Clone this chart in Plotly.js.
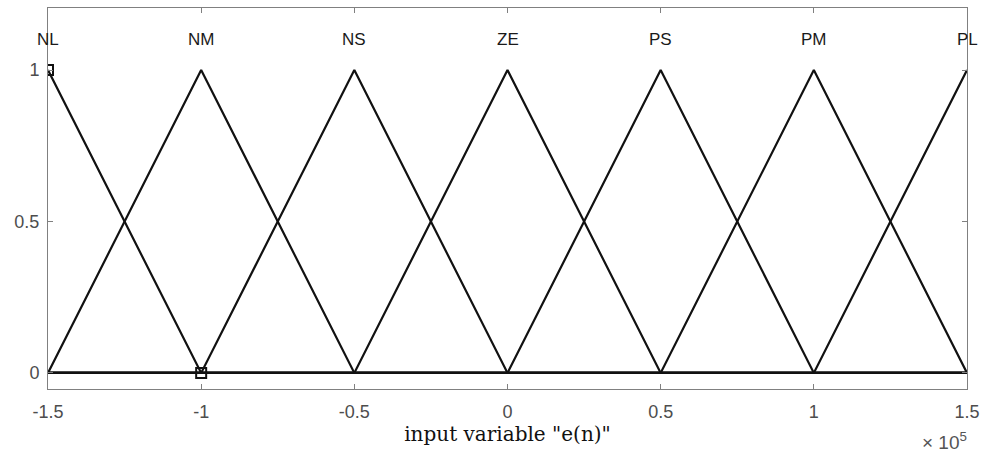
<!DOCTYPE html>
<html>
<head>
<meta charset="utf-8">
<script src="https://cdn.plot.ly/plotly-3.0.1.min.js"></script>
<style>html,body{margin:0;padding:0;background:#fff;}#chart{width:994px;height:455px;}</style>
</head>
<body>
<div id="chart"></div>
<script>
// Triangular membership functions of the input e(n)
const mfNames = ['NL', 'NM', 'NS', 'ZE', 'PS', 'PM', 'PL'];
const mfLeft   = [-150000, -150000, -100000, -50000, 0, 50000, 100000];
const mfPeak   = [-150000, -100000, -50000, 0, 50000, 100000, 150000];
const mfRight  = [-100000, -50000, 0, 50000, 100000, 150000, 150000];
const xMin = -150000, xMax = 150000;
const tickVals = [-150000, -100000, -50000, 0, 50000, 100000, 150000];
const tickText = ['-1.5', '-1', '-0.5', '0', '0.5', '1', '1.5'];
const markX = [-150000, -100000];
const markY = [1, 0];

const traces = [];
mfNames.forEach((n, i) => {
  const xs = [], ys = [];
  if (mfLeft[i] > xMin) { xs.push(xMin); ys.push(0); }
  if (mfLeft[i] < mfPeak[i]) { xs.push(mfLeft[i]); ys.push(0); }
  xs.push(mfPeak[i]); ys.push(1);
  if (mfRight[i] > mfPeak[i]) { xs.push(mfRight[i]); ys.push(0); }
  if (mfRight[i] < xMax) { xs.push(xMax); ys.push(0); }
  traces.push({x: xs, y: ys, mode: 'lines', line: {color: '#111', width: 2.2}, hoverinfo: 'skip', showlegend: false});
});
traces.push({x: markX, y: markY, mode: 'markers', showlegend: false,
  marker: {symbol: 'square-open', size: 10, color: '#111', line: {width: 2, color: '#111'}}});

const annotations = mfNames.map((n, i) => ({
  x: mfPeak[i], y: 1.1, xref: 'x', yref: 'y', text: n, showarrow: false,
  font: {family: 'Liberation Sans, Arial', size: 17, color: '#1a1a1a'}
}));
// exponent note for the x axis
annotations.push({x: 1, y: 0, xref: 'paper', yref: 'paper', xanchor: 'right', yanchor: 'top',
  xshift: 2, yshift: -38, showarrow: false,
  text: '× 10<sup>5</sup>',
  font: {family: 'Liberation Sans, Arial', size: 19, color: '#555'}});

const axisCommon = {showgrid: false, zeroline: false, showline: true, mirror: 'ticks',
  linecolor: '#808080', linewidth: 1, ticks: 'inside', ticklen: 5, tickcolor: '#808080',
  tickfont: {family: 'Liberation Sans, Arial', size: 18, color: '#4d4d4d'}};

const layout = {
  width: 994, height: 455,
  margin: {l: 48, r: 27, t: 8, b: 66},
  paper_bgcolor: '#fff', plot_bgcolor: '#fff',
  xaxis: Object.assign({}, axisCommon, {range: [xMin, xMax], tickmode: 'array',
    tickvals: tickVals, ticktext: tickText, ticklabelstandoff: 6,
    title: {text: 'input variable "e(n)"', standoff: 4,
      font: {family: 'DejaVu Serif, serif', size: 20, color: '#111'}}}),
  yaxis: Object.assign({}, axisCommon, {range: [-0.053, 1.205], tickmode: 'array',
    tickvals: [0, 0.5, 1], ticktext: ['0', '0.5', '1'], ticklabelstandoff: 4}),
  annotations: annotations
};

Plotly.newPlot('chart', traces, layout, {staticPlot: true, displayModeBar: false});
</script>
</body>
</html>
